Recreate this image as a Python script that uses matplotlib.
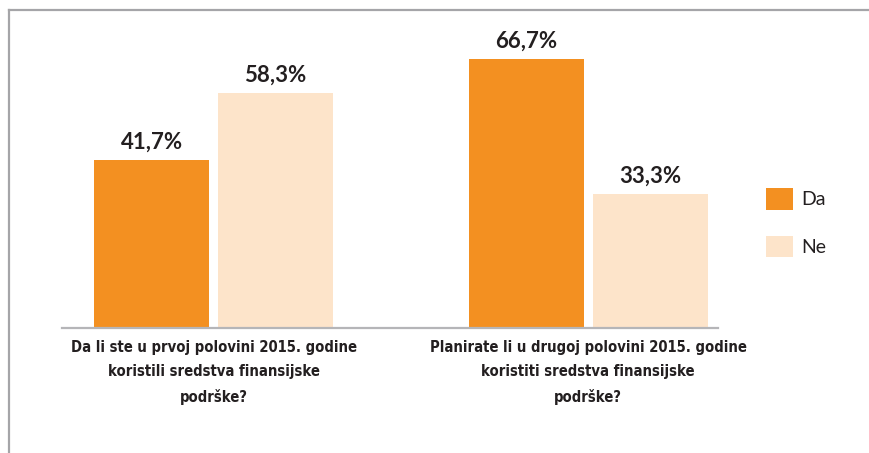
import matplotlib
matplotlib.use('Agg')
import matplotlib.pyplot as plt
from matplotlib import font_manager
from matplotlib.lines import Line2D
import numpy as np

# podaci
pitanja = ['Da li ste u prvoj polovini 2015. godine\nkoristili sredstva finansijske\npodrške?',
           'Planirate li u drugoj polovini 2015. godine\nkoristiti sredstva finansijske\npodrške?']
da = [41.7, 66.7]
ne = [58.3, 33.3]
serije = ['Da', 'Ne']

boje = ['#F39021', '#FDE4CA']
tamna = '#231F20'

# uski font za kategorije ako postoji
uski = None
for f in font_manager.fontManager.ttflist:
    if ('Condensed' in f.fname or 'Narrow' in f.fname) and f.weight in (600, 700, 'bold'):
        uski = f.fname
        break
if uski:
    kat_font = dict(fontproperties=font_manager.FontProperties(fname=uski, size=10.6))
else:
    kat_font = dict(family=['Lato', 'DejaVu Sans'], fontweight='bold', fontsize=11.5)

fig = plt.figure(figsize=(8.7, 4.53), dpi=100)
ax = fig.add_axes([0.0713, 0.276, 0.754, 0.702])

x = np.arange(len(pitanja))
sirina = 0.307
pomak = sirina / 2 + 0.012

b1 = ax.bar(x - pomak, da, sirina, color=boje[0], label=serije[0])
b2 = ax.bar(x + pomak, ne, sirina, color=boje[1], label=serije[1])

for traka in (b1, b2):
    for r in traka:
        v = r.get_height()
        ax.annotate(f'{v:.1f}%'.replace('.', ','), (r.get_x() + r.get_width() / 2, v),
                    xytext=(0, 5), textcoords='offset points', ha='center', va='bottom',
                    fontsize=16, fontweight='bold', family=['Lato', 'DejaVu Sans'], color=tamna)

ax.set_xlim(-0.4045, 1.347)
ax.set_ylim(0, 78.8)
ax.set_yticks([])
ax.set_xticks(x)
ax.set_xticklabels(pitanja, color=tamna, linespacing=1.75, **kat_font)
ax.tick_params(axis='x', length=0, pad=9)
for s in ['top', 'right', 'left']:
    ax.spines[s].set_visible(False)
ax.spines['bottom'].set_color('#B5B5B8')
ax.spines['bottom'].set_linewidth(1.6)

leg = ax.legend(loc='upper left', bbox_to_anchor=(0.880, 0.585), bbox_transform=fig.transFigure,
                frameon=False, borderaxespad=0, borderpad=0, handlelength=1.39, handleheight=1.34,
                labelspacing=1.34, handletextpad=0.46, prop={'family': 'Lato', 'size': 14})
for t in leg.get_texts():
    t.set_color(tamna)

# okvir
fig.add_artist(Line2D([9.5 / 870, 1], [1 - 9.5 / 453] * 2, transform=fig.transFigure,
                      color='#A5A5A8', lw=1.6))
fig.add_artist(Line2D([9.5 / 870] * 2, [0, 1 - 9.5 / 453], transform=fig.transFigure,
                      color='#A5A5A8', lw=1.6))

fig.savefig('out.png', dpi=100)
